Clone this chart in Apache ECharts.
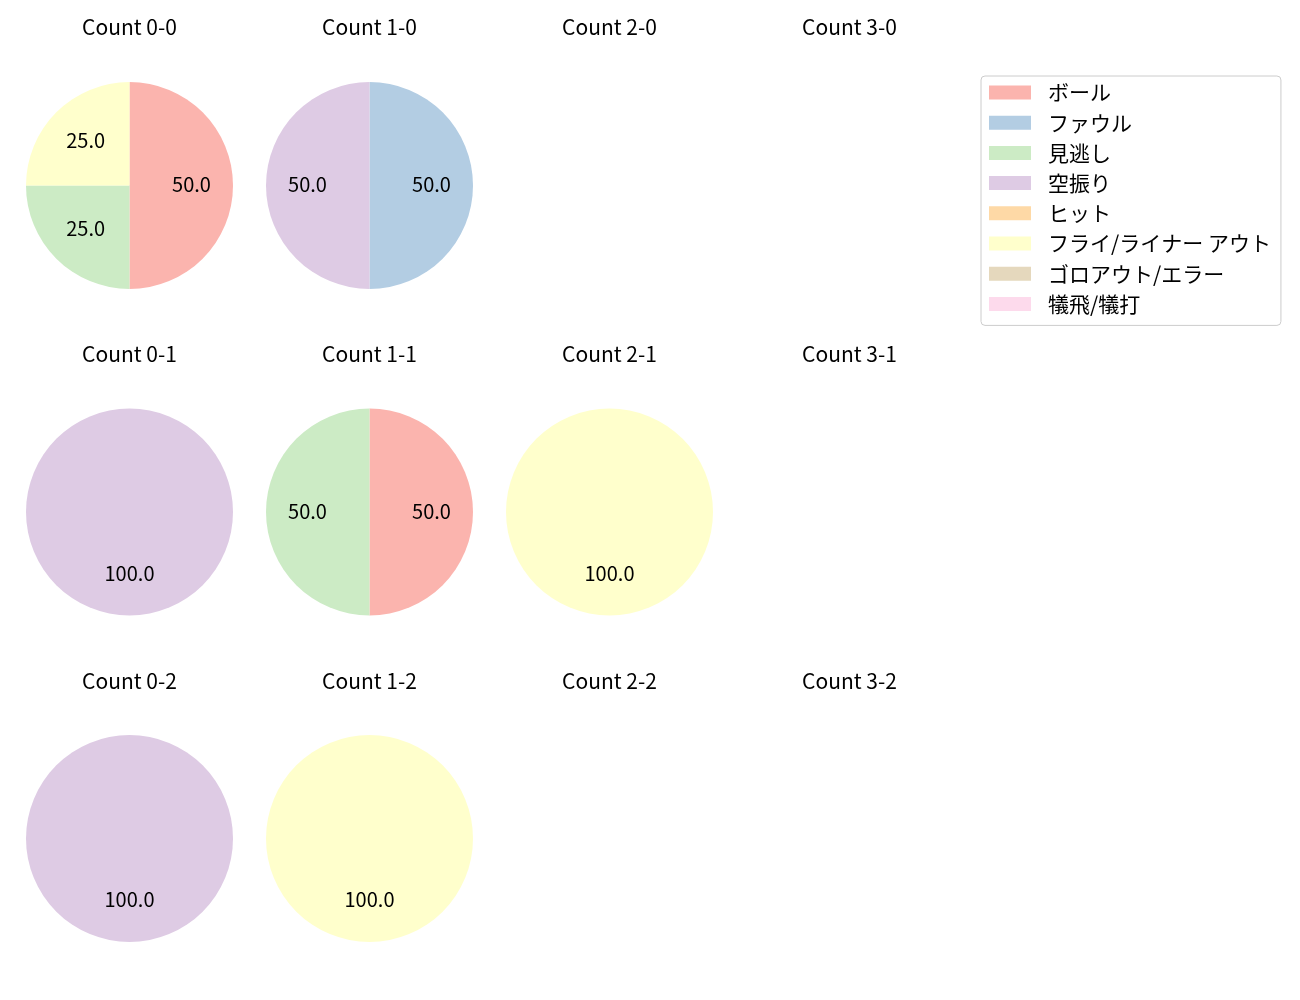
<!DOCTYPE html>
<html lang="ja">
<head>
    <meta charset="UTF-8">
    <title>Count pies</title>
    <script src="https://cdn.jsdelivr.net/npm/echarts@6/dist/echarts.min.js"></script>
</head>
<body style="margin:0;background:#fff;">
<div id="main" style="width: 1300px;height:1000px;"></div>
<script type="text/javascript">
    // result categories (legend order)
    var categories = ['ボール', 'ファウル', '見逃し', '空振り', 'ヒット', 'フライ/ライナー アウト', 'ゴロアウト/エラー', '犠飛/犠打'];
    var palette = ['#fbb4ae', '#b3cde3', '#ccebc5', '#decbe4', '#fed9a6', '#ffffcc', '#e5d8bd', '#fddaec'];

    // percentages per count, same order as categories (null = no pitches)
    var count00 = [50, 0, 25, 0, 0, 25, 0, 0];
    var count10 = [0, 50, 0, 50, 0, 0, 0, 0];
    var count20 = null;
    var count30 = null;
    var count01 = [0, 0, 0, 100, 0, 0, 0, 0];
    var count11 = [50, 0, 50, 0, 0, 0, 0, 0];
    var count21 = [0, 0, 0, 0, 0, 100, 0, 0];
    var count31 = null;
    var count02 = [0, 0, 0, 100, 0, 0, 0, 0];
    var count12 = [0, 0, 0, 0, 0, 100, 0, 0];
    var count22 = null;
    var count32 = null;

    var panels = [
        ['0-0', count00], ['1-0', count10], ['2-0', count20], ['3-0', count30],
        ['0-1', count01], ['1-1', count11], ['2-1', count21], ['3-1', count31],
        ['0-2', count02], ['1-2', count12], ['2-2', count22], ['3-2', count32]
    ];

    var font = 'Noto Sans CJK JP';
    var colX = [129.5, 369.5, 609.5, 849.5];
    var rowY = [185.5, 512, 838.5];
    var titleY = [28, 355, 682];
    var R = 103.5;

    var chart = echarts.init(document.getElementById('main'));

    var titles = [];
    var series = [];
    panels.forEach(function (p, i) {
        var cx = colX[i % 4], cy = rowY[Math.floor(i / 4)];
        titles.push({
            text: 'Count ' + p[0],
            left: cx,
            top: titleY[Math.floor(i / 4)] - 11,
            textAlign: 'center',
            padding: 0,
            textStyle: {fontFamily: font, fontSize: 21, fontWeight: 'normal', color: '#000'}
        });
        if (!p[1]) return;
        var data = categories.map(function (c, k) {
            return {name: c, value: p[1][k]};
        });
        // filled slices
        series.push({
            type: 'pie',
            center: [cx, cy],
            radius: [0, R],
            startAngle: 90,
            clockwise: true,
            avoidLabelOverlap: false,
            label: {show: false},
            labelLine: {show: false},
            itemStyle: {borderWidth: 0},
            emphasis: {disabled: true},
            data: data
        });
        // transparent ring only for label placement
        series.push({
            type: 'pie',
            center: [cx, cy],
            radius: [0.14 * R, R],
            startAngle: 90,
            clockwise: true,
            silent: true,
            avoidLabelOverlap: false,
            legendHoverLink: false,
            itemStyle: {color: 'rgba(0,0,0,0)', borderWidth: 0},
            label: {
                show: true,
                position: 'inside',
                fontFamily: font,
                fontSize: 20,
                color: '#000',
                offset: [0, -1],
                formatter: function (d) {
                    return d.value > 0 ? d.value.toFixed(1) : '';
                }
            },
            labelLine: {show: false},
            emphasis: {disabled: true},
            data: data
        });
    });

    var option = {
        color: palette,
        animation: false,
        title: titles,
        legend: {
            data: categories,
            orient: 'vertical',
            left: 981,
            top: 76,
            icon: 'rect',
            itemWidth: 42,
            itemHeight: 14,
            itemGap: 9.2,
            padding: [6, 10, 11, 8],
            borderColor: '#ccc',
            borderWidth: 1,
            borderRadius: 4,
            selectedMode: false,
            textStyle: {fontFamily: font, fontSize: 21, color: '#000', padding: [0, 0, 0, 12]}
        },
        series: series
    };

    chart.setOption(option);
</script>
</body>
</html>
